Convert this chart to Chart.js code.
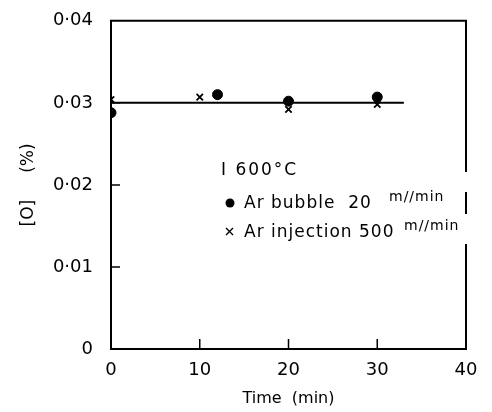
<!DOCTYPE html>
<html>
<head>
<meta charset="utf-8">
<script src="https://cdn.jsdelivr.net/npm/chart.js@4/dist/chart.umd.min.js"></script>
<style>
  html, body { margin: 0; padding: 0; background: #fff; }
  #wrap { width: 492px; height: 412px; }
</style>
</head>
<body>
<div id="wrap"><canvas id="c" width="492" height="412"></canvas></div>
<script>
// [O] vs time at 1600°C — bubbling vs injection
const bubbleTime = [0, 12, 20, 30];
const bubbleO = [0.0288, 0.0310, 0.0302, 0.0307];
const injectTime = [0, 10, 20, 30];
const injectO = [0.0304, 0.0307, 0.0292, 0.0298];
const meanLineTime = [0, 33];
const meanLineO = [0.030, 0.030];
const xTicks = [0, 10, 20, 30, 40];
const yTicks = [0, 0.01, 0.02, 0.03, 0.04];

const FONT = 'DejaVu Sans';
const toPts = (xs, ys) => xs.map((x, i) => ({ x, y: ys[i] }));
const fmtY = v => v === 0 ? '0' : v.toFixed(2).replace('.', '·');

// frame, inward ticks and the legend block
const framePlugin = {
  id: 'frame',
  afterDatasetsDraw(chart) {
    const { ctx, chartArea: a, scales: { x, y } } = chart;
    ctx.save();
    ctx.strokeStyle = '#000';
    ctx.lineWidth = 2;
    ctx.beginPath();
    ctx.moveTo(a.left, a.top);
    ctx.lineTo(a.right, a.top);
    ctx.lineTo(a.right, a.bottom);
    ctx.lineTo(a.left, a.bottom);
    ctx.closePath();
    ctx.stroke();

    ctx.lineWidth = 1.5;
    ctx.beginPath();
    xTicks.slice(1, -1).forEach(v => {
      const px = x.getPixelForValue(v);
      ctx.moveTo(px, a.bottom);
      ctx.lineTo(px, a.bottom - 10);
    });
    yTicks.slice(1, -1).forEach(v => {
      const py = y.getPixelForValue(v);
      ctx.moveTo(a.left, py);
      ctx.lineTo(a.left + 9, py);
    });
    ctx.stroke();

    // legend (breaks the right border where the text runs over it)
    ctx.fillStyle = '#fff';
    ctx.fillRect(a.right - 4, 172, 8, 20);
    ctx.fillRect(a.right - 4, 214, 8, 30);
    ctx.fillStyle = '#000';
    ctx.textBaseline = 'middle';
    ctx.font = `17px ${FONT}`;
    ctx.letterSpacing = '2px';
    ctx.fillText('I 600°C', 221, 171);
    ctx.letterSpacing = '1px';
    ctx.fillText('Ar bubble  20', 244, 204);
    ctx.fillText('Ar injection 500', 244, 233);
    ctx.beginPath();
    ctx.arc(230, 203, 4.5, 0, Math.PI * 2);
    ctx.fill();
    ctx.lineWidth = 1.4;
    ctx.beginPath();
    ctx.moveTo(226, 228); ctx.lineTo(233, 235);
    ctx.moveTo(233, 228); ctx.lineTo(226, 235);
    ctx.stroke();
    ctx.font = `14px ${FONT}`;
    ctx.fillText('m//min', 389, 197);
    ctx.fillText('m//min', 404, 226);
    ctx.restore();
  }
};

new Chart(document.getElementById('c'), {
  type: 'scatter',
  data: {
    datasets: [
      {
        label: 'Ar bubble 20 m//min',
        data: toPts(bubbleTime, bubbleO),
        pointStyle: 'circle',
        pointRadius: 5,
        backgroundColor: '#000',
        borderColor: '#000',
      },
      {
        label: 'Ar injection 500 m//min',
        data: toPts(injectTime, injectO),
        pointStyle: 'crossRot',
        pointRadius: 4.5,
        borderWidth: 1.8,
        borderColor: '#000',
      },
      {
        type: 'line',
        label: 'mean',
        data: toPts(meanLineTime, meanLineO),
        borderColor: '#000',
        borderWidth: 2,
        pointRadius: 0,
      },
    ],
  },
  options: {
    responsive: false,
    animation: false,
    layout: { padding: { top: 0, right: 26, left: 14, bottom: 0 } },
    plugins: {
      legend: { display: false },
      tooltip: { enabled: false },
    },
    scales: {
      x: {
        type: 'linear',
        min: 0, max: 40,
        grid: { display: false },
        border: { display: false },
        ticks: { stepSize: 10, color: '#000', font: { family: FONT, size: 18 }, padding: 3 },
        title: { display: true, text: 'Time  (min)', color: '#000', font: { family: FONT, size: 16 }, padding: { top: 14 } },
        afterFit: s => { s.height = 63; },
      },
      y: {
        min: 0, max: 0.04,
        grid: { display: false },
        border: { display: false },
        ticks: { stepSize: 0.01, color: '#000', font: { family: FONT, size: 18 }, padding: 10, callback: v => fmtY(v) },
        title: { display: true, text: '[O]     (%)', color: '#000', font: { family: FONT, size: 17 } },
        afterFit: s => { s.width = 97; },
      },
    },
  },
  plugins: [framePlugin],
});
</script>
</body>
</html>
